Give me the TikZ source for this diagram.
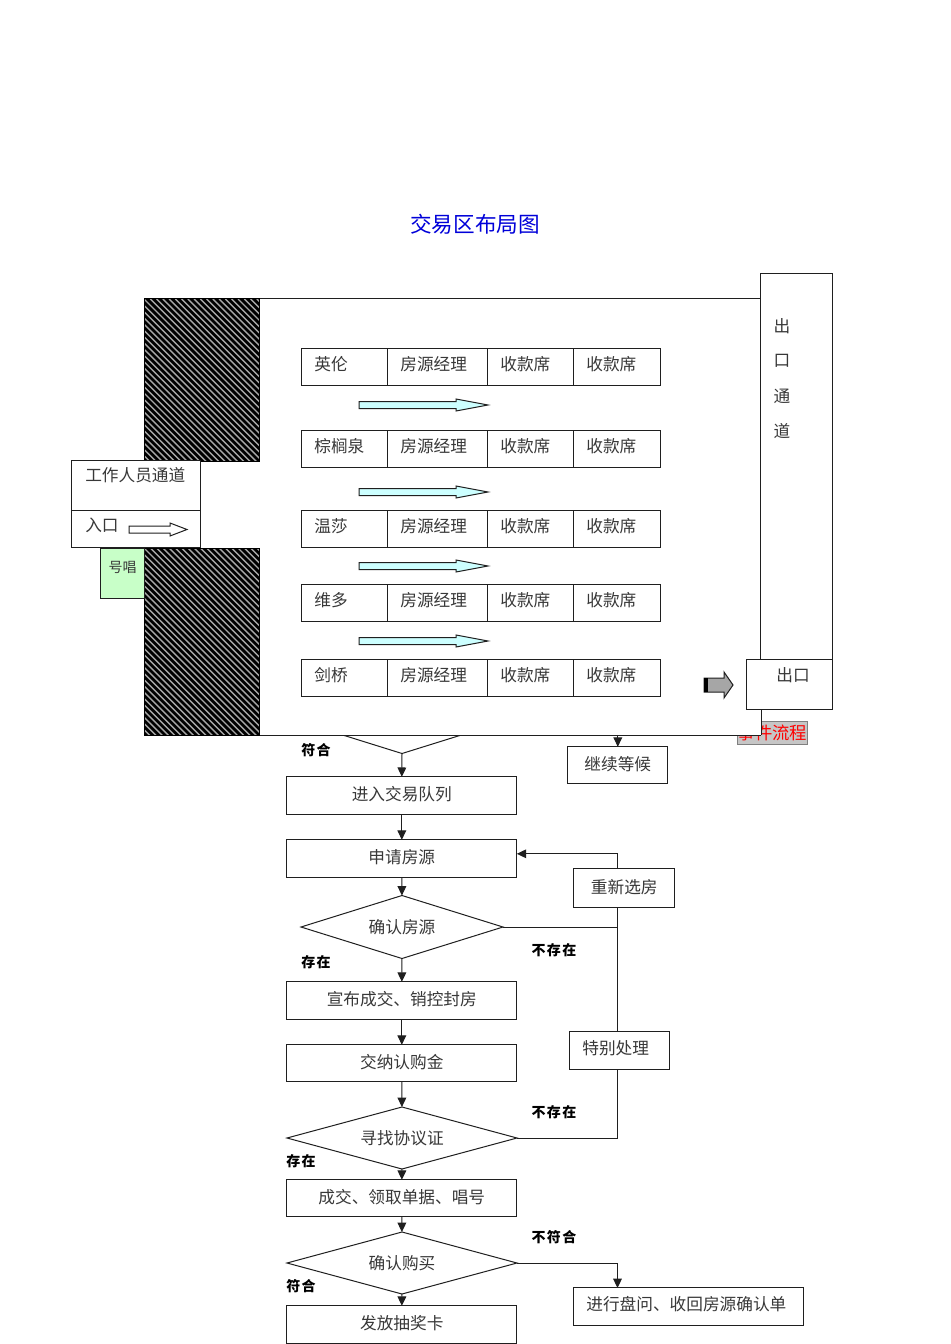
\documentclass[tikz,border=0pt]{standalone}
\usepackage{fontspec}
\setmainfont{Noto Sans CJK SC}
\usetikzlibrary{arrows.meta,shapes.geometric,calc}
\pgfdeclarelayer{under}\pgfdeclarelayer{roomlayer}\pgfdeclarelayer{wires}
\pgfsetlayers{under,roomlayer,wires,main}
\definecolor{ink}{gray}{0.12}
\definecolor{txt}{gray}{0.22}
\definecolor{lightcy}{RGB}{204,255,255}
\definecolor{lightgr}{RGB}{200,255,200}
\tikzset{
  wire/.style={draw=ink,line width=0.75pt},
  arr/.style={wire,-{Triangle[length=7pt,width=6.5pt]}},
  basebox/.style={draw=ink,fill=white,line width=0.75pt,rectangle,outer sep=0pt,font=\fontsize{12.5}{14}\selectfont,text=txt},
  flowdiamond/.style={diamond,aspect=3.5,draw=ink,fill=white,line width=0.75pt,inner sep=0pt,outer sep=0pt,font=\fontsize{12.5}{14}\selectfont,text=txt},
  cond/.style={font=\fontsize{10.5}{12}\selectfont\bfseries\addfontfeature{LetterSpace=10},text=black,inner sep=0pt},
  plain/.style={font=\fontsize{12.5}{14}\selectfont,text=txt,inner sep=0pt},
  hatch/.style={rectangle,draw=black,fill=black,line width=0.75pt,outer sep=0pt,inner sep=0pt,
    path picture={
      \foreach \i in {-75,...,25}{
        \draw[gray!70,line width=1.05pt] ([xshift={\i*4.7pt}]path picture bounding box.north west) -- ++(420,420);
      }
    }},
  block/.style={draw=ink,line width=0.75pt},
}
% name, x1, y1, x2, y2, text : centred box
\newcommand\cbox[6]{\node[basebox,minimum width={(#4-#2)*0.75pt},minimum height={(#5-#3)*0.75pt},inner sep=0pt] (#1) at ({(#2+#4)/2-0.2},{(#3+#5)/2-0.2}) {\raisebox{3.4pt}{#6}};}
% name, x1, y1, x2, y2, text : left-aligned box with 13px padding
\newcommand\lbox[6]{\node[basebox,minimum height={(#5-#3)*0.75pt},inner ysep=0pt,inner xsep=9.4pt,text width={(#4-#2)*0.75pt-18.8pt},align=left] (#1) at ({(#2+#4)/2-0.2},{(#3+#5)/2-0.2}) {\raisebox{5.6pt}{#6}};}
% block arrow: x1,x2,y,head length,fill,shaft half height,head half height
\newcommand\blockarrow[7]{\draw[block,fill=#5] (#1,#3-#6) -- ({#2-#4},#3-#6) -- ({#2-#4},#3-#7) -- (#2,#3) -- ({#2-#4},#3+#7) -- ({#2-#4},#3+#6) -- (#1,#3+#6) -- cycle;}
% one row of the trading area
\newcommand\deskrow[4]{%
  \lbox{n#1}{302}{#2}{388}{#3}{#4}
  \lbox{m#1}{388}{#2}{488}{#3}{房源经理}
  \lbox{c#1}{488}{#2}{574}{#3}{收款席}
  \lbox{k#1}{574}{#2}{661}{#3}{收款席}
}
\begin{document}
\begin{tikzpicture}[x=0.75pt,y=-0.75pt]
\useasboundingbox (0,0) rectangle (950,1344);

\node[inner sep=0pt,text=blue!85!black,font=\fontsize{16.2}{18}\selectfont] (title) at (475,224) {交易区布局图};

% hidden parts, covered by the room
\begin{pgfonlayer}{under}
  \fill[white] (0,0) rectangle (950,1344);
  \node[rectangle,draw=gray,fill=gray!45,line width=0.6pt,minimum width={67*0.75pt},minimum height={23*0.75pt},inner sep=0pt,text=red,font=\fontsize{13}{15}\selectfont] (event) at (772.5,732.5) {事件流程};
  \node[flowdiamond,minimum width={202*0.75pt},minimum height={63*0.75pt}] (d0) at (402,722) {};
\end{pgfonlayer}

% room
\begin{pgfonlayer}{roomlayer}
  \fill[white] (144,299) rectangle (761,735);
  \coordinate (rtl) at (259,299);
  \coordinate (rtr) at (761,299);
  \coordinate (rbl) at (144,735);
  \coordinate (rbr) at (761,735);
  \draw[wire] (rtl) -- (rtr);
  \draw[wire] (rbl) -- (rbr);
\end{pgfonlayer}

\node[hatch,minimum width={115*0.75pt},minimum height={162*0.75pt}] (h1) at (201.5,380) {};
\node[hatch,minimum width={115*0.75pt},minimum height={187*0.75pt}] (h2) at (201.5,641.5) {};

\cbox{staff}{72}{461}{201}{511}{}
\node[plain,anchor=west] (stafft) at (85,475) {工作人员通道};
\cbox{entry}{72}{511}{201}{548}{}
\node[plain,anchor=west] (entryt) at (85,525) {入口};
\blockarrow{129}{187}{529.5}{17}{white}{3.5}{6.5}
\node[basebox,fill=lightgr,minimum width={44*0.75pt},minimum height={50*0.75pt},inner sep=0pt] (sing) at (122,573) {};
\node[inner sep=0pt,text=txt,font=\fontsize{10.5}{12}\selectfont] (singt) at (122.5,567) {号唱};

\cbox{corr}{761}{274}{833}{660}{}
\node[plain] (c1) at (782,326) {出};
\node[plain] (c2) at (782,361) {口};
\node[plain] (c3) at (782,396) {通};
\node[plain] (c4) at (782,431) {道};
\cbox{exit}{747}{660}{833}{710}{}
\node[plain] (exitt) at (793,675) {出口};
\begin{pgfonlayer}{wires}
  \draw[wire] (761,710) -- (761,735);
\end{pgfonlayer}
\blockarrow{704}{733}{685}{9}{gray!70}{7}{13}
\fill[black] (703.5,678) rectangle (707.5,692);

\deskrow{1}{349}{386}{英伦}
\deskrow{2}{431}{468}{棕榈泉}
\deskrow{3}{511}{548}{温莎}
\deskrow{4}{585}{622}{维多}
\deskrow{5}{660}{697}{剑桥}
\blockarrow{359}{488}{405}{32}{lightcy}{3.5}{6}
\blockarrow{359}{488}{492}{32}{lightcy}{3.5}{6}
\blockarrow{359}{488}{566}{32}{lightcy}{3.5}{6}
\blockarrow{359}{488}{641}{32}{lightcy}{3.5}{6}

% flow
\cbox{queue}{287}{777}{517}{815}{进入交易队列}
\cbox{wait}{568}{747}{668}{784}{继续等候}
\cbox{apply}{287}{840}{517}{878}{申请房源}
\node[flowdiamond,minimum width={202*0.75pt},minimum height={63*0.75pt}] (d1) at (402,927) {确认房源};
\cbox{reselect}{574}{869}{675}{908}{重新选房}
\cbox{announce}{287}{982}{517}{1020}{宣布成交、销控封房}
\cbox{pay}{287}{1045}{517}{1082}{交纳认购金}
\lbox{special}{570}{1032}{670}{1070}{特别处理}
\node[flowdiamond,minimum width={230*0.75pt},minimum height={62*0.75pt}] (d2) at (402,1138) {寻找协议证};
\cbox{deal}{287}{1180}{517}{1217}{成交、领取单据、唱号}
\node[flowdiamond,minimum width={230*0.75pt},minimum height={62*0.75pt}] (d3) at (402,1263) {确认购买};
\lbox{inquire}{574}{1288}{804}{1326}{进行盘问、收回房源确认单}
\cbox{card}{287}{1306}{517}{1344}{发放抽奖卡}

\node[cond] (l1) at (316,750) {符合};
\node[cond] (l2) at (554,950) {不存在};
\node[cond] (l3) at (316,962) {存在};
\node[cond] (l4) at (554,1112) {不存在};
\node[cond] (l5) at (301,1161) {存在};
\node[cond] (l6) at (554,1237) {不符合};
\node[cond] (l7) at (301,1286) {符合};

% connectors
\coordinate (waitin) at ($(wait.north)+(0,-12)$);
\begin{pgfonlayer}{under}
  \draw[wire] (d0.east) -| (wait.north);
\end{pgfonlayer}
\draw[arr] (d0.south) -- (queue.north);
\draw[arr] (waitin) -- (wait.north);
\draw[arr] (queue) -- (apply);
\draw[arr] (apply) -- (d1);
\draw[arr] (d1) -- (announce);
\draw[arr] (announce) -- (pay);
\draw[arr] (pay) -- (d2);
\draw[arr] (d2) -- (deal);
\draw[arr] (deal) -- (d3);
\draw[arr] (d3) -- (card);
\begin{pgfonlayer}{wires}
  \coordinate (j1) at (617.5,927);
  \coordinate (applyin) at ($(apply.east)+(0,-5)$);
  \draw[wire] (d1.east) -- (j1);
  \draw[arr] (j1) |- (applyin);
  \draw[wire] (j1) |- (d2.east);
\end{pgfonlayer}
\coordinate (inq) at (617.5,1288);
\draw[arr] (d3.east) -| (inq);
\end{tikzpicture}
\end{document}
